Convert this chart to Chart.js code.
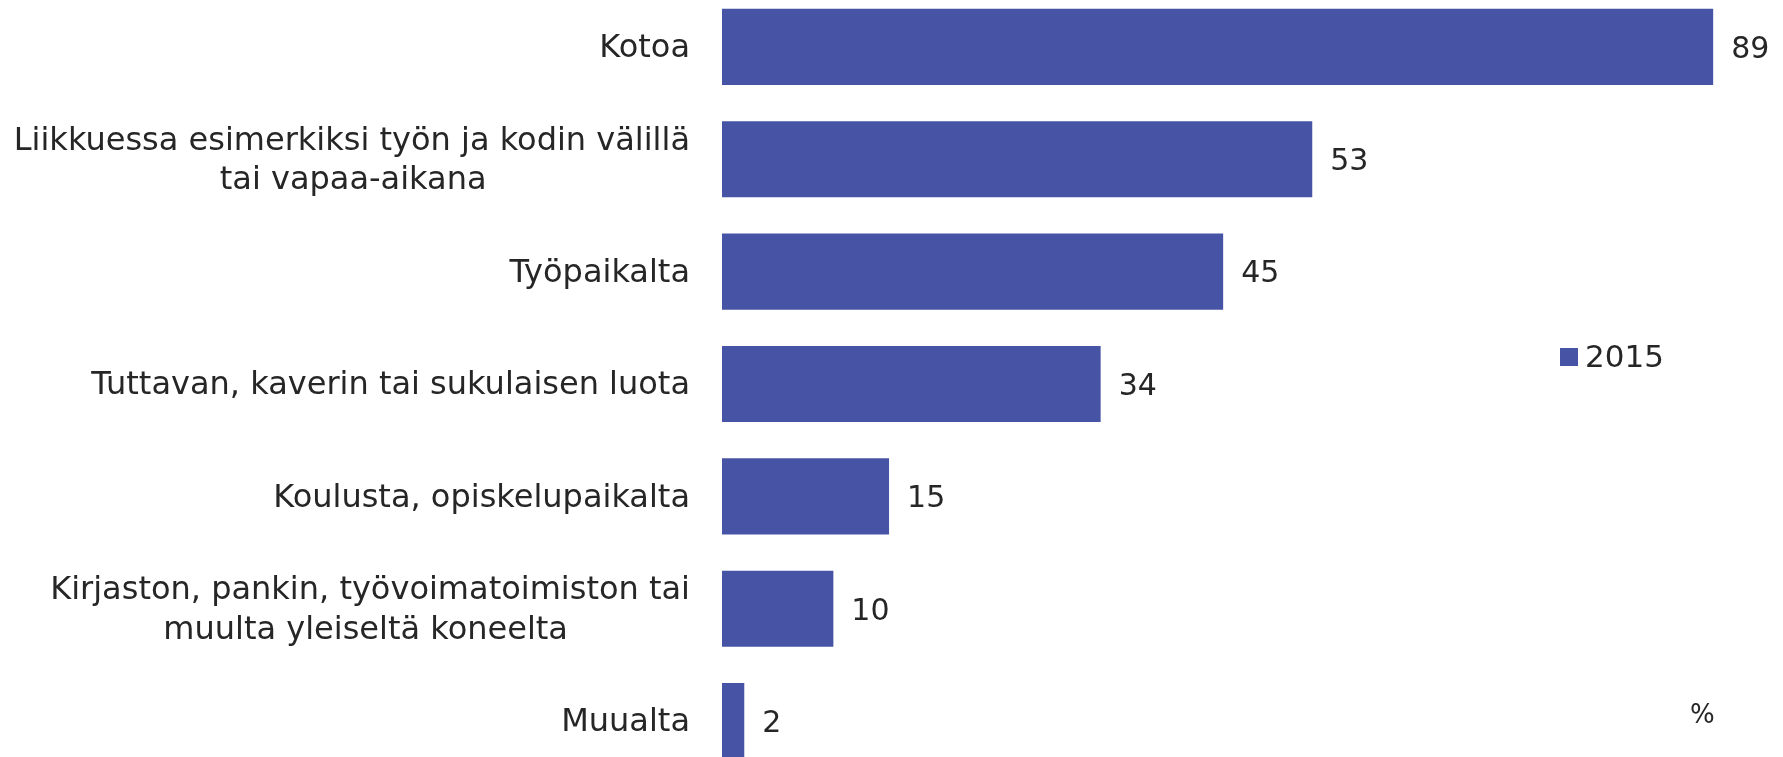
<!DOCTYPE html>
<html lang="fi">
<head>
    <meta charset="UTF-8">
    <script src="https://cdn.jsdelivr.net/npm/chart.js"></script>
    <title>Mistä internetiä käytetään</title>
    <style>
        html, body { margin: 0; padding: 0; background: #fff; overflow: hidden; }
        /* canvas runs past the window: the original chart is cut at the bottom */
        #wrap { position: absolute; left: 0; top: -53px; width: 1783px; height: 874px; }
    </style>
</head>
<body>
    <div id="wrap">
        <canvas id="myChart"></canvas>
    </div>

    <script>
        // data
        const categories = [
            'Kotoa',
            ['Liikkuessa esimerkiksi työn ja kodin välillä', 'tai vapaa-aikana'],
            'Työpaikalta',
            'Tuttavan, kaverin tai sukulaisen luota',
            'Koulusta, opiskelupaikalta',
            ['Kirjaston, pankin, työvoimatoimiston tai', 'muulta yleiseltä koneelta'],
            'Muualta'
        ];
        const values2015 = [89, 53, 45, 34, 15, 10, 2];
        const seriesName = '2015';
        const unitLabel = '%';

        const barColor = 'rgb(71, 84, 165)';
        const textColor = '#262626';
        const fontFamily = '"DejaVu Sans", Verdana, sans-serif';
        const labelFont = '32px ' + fontFamily;
        const shiftY = 53; // canvas y = page y + shiftY

        // two-line labels are centred on each other in the original, while the
        // block stays right-aligned -> pad the shorter line with trailing spaces
        const measureCtx = document.createElement('canvas').getContext('2d');
        measureCtx.font = labelFont;
        function centreLines(label) {
            if (!Array.isArray(label)) return label;
            const sp = measureCtx.measureText('\u00A0').width;
            const widths = label.map(l => measureCtx.measureText(l).width);
            const widest = Math.max(...widths);
            return label.map((l, i) => l + '\u00A0'.repeat(Math.round((widest - widths[i]) / 2 / sp)));
        }

        // numbers after the bars
        const valueLabels = {
            id: 'valueLabels',
            afterDatasetsDraw(chart) {
                const ctx = chart.ctx;
                const meta = chart.getDatasetMeta(0);
                ctx.save();
                ctx.font = '30px ' + fontFamily;
                ctx.fillStyle = textColor;
                ctx.textBaseline = 'middle';
                ctx.textAlign = 'left';
                meta.data.forEach((bar, i) => {
                    ctx.fillText(String(chart.data.datasets[0].data[i]), bar.x + 18, bar.y + 3);
                });
                ctx.restore();
            }
        };

        // legend square + "%" note, placed like the original
        const sideNotes = {
            id: 'sideNotes',
            afterDraw(chart) {
                const ctx = chart.ctx;
                ctx.save();
                ctx.fillStyle = barColor;
                ctx.fillRect(1560, 348 + shiftY, 18, 18);
                ctx.font = '31px ' + fontFamily;
                ctx.fillStyle = textColor;
                ctx.textBaseline = 'middle';
                ctx.fillText(chart.data.datasets[0].label, 1585, 359 + shiftY);
                ctx.font = '26px ' + fontFamily;
                ctx.fillText(unitLabel, 1690, 716 + shiftY);
                ctx.restore();
            }
        };

        const ctx = document.getElementById('myChart').getContext('2d');
        const myChart = new Chart(ctx, {
            type: 'bar',
            data: {
                labels: categories,
                datasets: [{
                    label: seriesName,
                    data: values2015,
                    backgroundColor: barColor,
                    borderWidth: 0,
                    barPercentage: 0.677,
                    categoryPercentage: 1
                }]
            },
            options: {
                indexAxis: 'y',
                responsive: true,
                maintainAspectRatio: false,
                animation: false,
                layout: { padding: { top: 0, bottom: 0, left: 0, right: 3 } },
                plugins: {
                    legend: { display: false },
                    tooltip: { enabled: false }
                },
                scales: {
                    x: {
                        display: false,
                        min: 0,
                        max: 95
                    },
                    y: {
                        grid: { display: false },
                        border: { display: false },
                        ticks: {
                            color: textColor,
                            padding: 24,
                            labelOffset: 2,
                            font: { family: fontFamily, size: 32, lineHeight: 1.23 },
                            callback(value) {
                                return centreLines(this.getLabelForValue(value));
                            }
                        },
                        afterFit(scale) {
                            scale.width = 722;
                        }
                    }
                }
            },
            plugins: [valueLabels, sideNotes]
        });
    </script>
</body>
</html>
